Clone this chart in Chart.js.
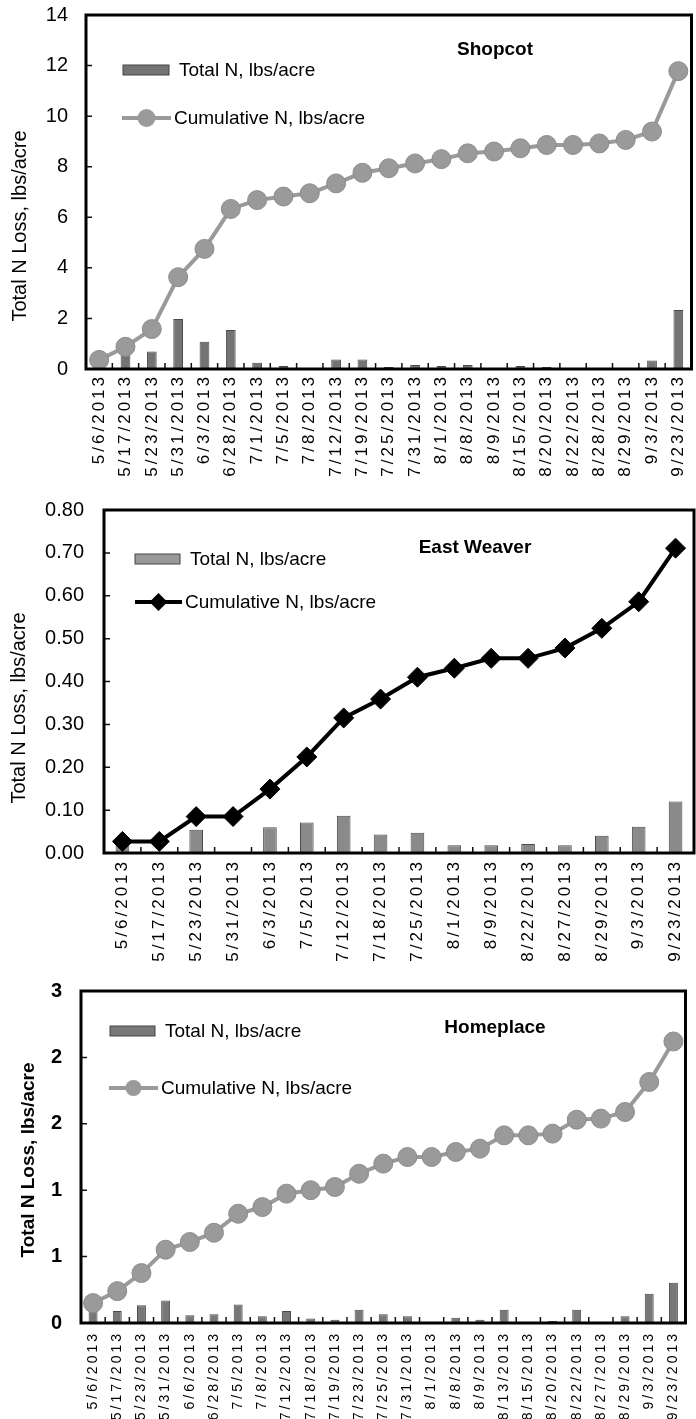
<!DOCTYPE html>
<html lang="en">
  <head>
    <meta charset="UTF-8" />
    <script src="https://cdn.jsdelivr.net/npm/chart.js"></script>
    <style>
      html,
      body {
        margin: 0;
        padding: 0;
        background: #fff;
        overflow: hidden;
        width: 696px;
        height: 1419px;
      }
      canvas {
        position: absolute;
        left: 0;
        display: block;
      }
    </style>
  </head>
  <body>
    <canvas id="shopcot" width="702" height="480" style="top: 0px"></canvas>
    <canvas id="weaver" width="705" height="480" style="top: 495px"></canvas>
    <canvas id="homeplace" width="696" height="459" style="top: 960px"></canvas>

    <script>
      // ---- data ----
      const shopcotDates = [
        "5/6/2013", "5/17/2013", "5/23/2013", "5/31/2013", "6/3/2013", "6/28/2013",
        "7/1/2013", "7/5/2013", "7/8/2013", "7/12/2013", "7/19/2013", "7/25/2013",
        "7/31/2013", "8/1/2013", "8/8/2013", "8/9/2013", "8/15/2013", "8/20/2013",
        "8/22/2013", "8/28/2013", "8/29/2013", "9/3/2013", "9/23/2013",
      ];
      const shopcotTotal = [
        0.36, 0.55, 0.69, 1.98, 1.08, 1.54, 0.25, 0.12, 0.02, 0.38, 0.38, 0.08,
        0.16, 0.12, 0.16, 0.02, 0.12, 0.08, 0.01, 0.01, 0.02, 0.34, 2.33,
      ];
      const shopcotCumulative = [
        0.36, 0.88, 1.58, 3.63, 4.75, 6.33, 6.68, 6.82, 6.95, 7.34, 7.76, 7.94,
        8.13, 8.3, 8.53, 8.6, 8.73, 8.86, 8.86, 8.92, 9.06, 9.39, 11.78,
      ];

      const weaverDates = [
        "5/6/2013", "5/17/2013", "5/23/2013", "5/31/2013", "6/3/2013", "7/5/2013",
        "7/12/2013", "7/18/2013", "7/25/2013", "8/1/2013", "8/9/2013", "8/22/2013",
        "8/27/2013", "8/29/2013", "9/3/2013", "9/23/2013",
      ];
      const weaverTotal = [
        0.02, 0, 0.054, 0, 0.06, 0.071, 0.087, 0.043, 0.047, 0.018, 0.018, 0.021,
        0.018, 0.04, 0.061, 0.12,
      ];
      const weaverCumulative = [
        0.027, 0.027, 0.085, 0.085, 0.149, 0.224, 0.315, 0.359, 0.41, 0.431, 0.454,
        0.454, 0.478, 0.524, 0.586, 0.711,
      ];

      const homeDates = [
        "5/6/2013", "5/17/2013", "5/23/2013", "5/31/2013", "6/6/2013", "6/28/2013",
        "7/5/2013", "7/8/2013", "7/12/2013", "7/18/2013", "7/19/2013", "7/23/2013",
        "7/25/2013", "7/31/2013", "8/1/2013", "8/8/2013", "8/9/2013", "8/13/2013",
        "8/15/2013", "8/20/2013", "8/22/2013", "8/27/2013", "8/29/2013", "9/3/2013",
        "9/23/2013",
      ];
      const homeTotal = [
        0.15, 0.09, 0.133, 0.17, 0.058, 0.065, 0.14, 0.05, 0.09, 0.033, 0.025, 0.1,
        0.065, 0.05, 0.008, 0.04, 0.025, 0.1, 0.005, 0.015, 0.1, 0.005, 0.05, 0.22,
        0.304,
      ];
      const homeCumulative = [
        0.15, 0.24, 0.376, 0.552, 0.61, 0.68, 0.823, 0.873, 0.974, 1.0, 1.024,
        1.124, 1.2, 1.25, 1.25, 1.288, 1.313, 1.413, 1.413, 1.426, 1.531, 1.539,
        1.589, 1.815, 2.12,
      ];

      const FONT = "'Liberation Sans', Arial, sans-serif";
      const Y_TITLE = "Total N Loss, lbs/acre";

      // frame, inner tick marks, legend, axis title and site name
      const chartFrame = {
        id: "chartFrame",
        beforeDraw(chart, args, o) {
          // the date labels in the figure are spread out, so widen them a bit
          const xs = chart.scales.x;
          if (!xs._spaced) {
            const orig = xs.drawLabels;
            xs.drawLabels = function (area) {
              this.ctx.save();
              this.ctx.letterSpacing = o.spacing + "px";
              orig.call(this, area);
              this.ctx.restore();
            };
            xs._spaced = true;
          }
        },
        afterDatasetsDraw(chart, args, o) {
          const { ctx, chartArea: a } = chart;
          const x = chart.scales.x;
          const y = chart.scales.y;
          ctx.save();
          ctx.strokeStyle = "#111";
          ctx.lineWidth = 1.5;
          ctx.beginPath();
          const n = chart.data.labels.length;
          const half = (x.getPixelForValue(1) - x.getPixelForValue(0)) / 2;
          for (let i = 0; i <= n; i++) {
            const px = x.getPixelForValue(i) - half;
            ctx.moveTo(px, a.bottom);
            ctx.lineTo(px, a.bottom - 6);
          }
          y.ticks.forEach((t) => {
            const py = y.getPixelForValue(t.value);
            ctx.moveTo(a.left, py);
            ctx.lineTo(a.left + 6, py);
          });
          ctx.stroke();
          ctx.lineWidth = 3;
          ctx.strokeStyle = "#000";
          ctx.strokeRect(a.left, a.top, a.right - a.left, a.bottom - a.top);
          ctx.restore();
        },
        afterDraw(chart, args, o) {
          const ctx = chart.ctx;
          const bar = chart.data.datasets[1];
          const line = chart.data.datasets[0];
          ctx.save();
          // bar swatch
          ctx.fillStyle = o.swatchColor;
          ctx.strokeStyle = "#444";
          ctx.lineWidth = 1;
          ctx.fillRect(o.bar[0], o.bar[1], o.bar[2], o.bar[3]);
          ctx.strokeRect(o.bar[0], o.bar[1], o.bar[2], o.bar[3]);
          ctx.fillStyle = "#000";
          ctx.font = "19px " + FONT;
          ctx.textBaseline = "middle";
          ctx.textAlign = "left";
          ctx.fillText(bar.label, o.bar[0] + o.bar[2] + 10, o.bar[1] + o.bar[3] / 2 + 1);
          // line swatch
          ctx.strokeStyle = line.borderColor;
          ctx.lineWidth = line.borderWidth;
          ctx.beginPath();
          ctx.moveTo(o.line[0], o.line[2]);
          ctx.lineTo(o.line[1], o.line[2]);
          ctx.stroke();
          const cx = (o.line[0] + o.line[1]) / 2;
          const r = o.markerRadius;
          ctx.fillStyle = line.pointBackgroundColor;
          ctx.beginPath();
          if (line.pointStyle === "rectRot") {
            ctx.moveTo(cx, o.line[2] - r);
            ctx.lineTo(cx + r, o.line[2]);
            ctx.lineTo(cx, o.line[2] + r);
            ctx.lineTo(cx - r, o.line[2]);
            ctx.closePath();
          } else {
            ctx.arc(cx, o.line[2], r, 0, Math.PI * 2);
          }
          ctx.fill();
          ctx.fillStyle = "#000";
          ctx.fillText(line.label, o.line[1] + 3, o.line[2] + 1);
          // site name
          ctx.font = "bold 19px " + FONT;
          ctx.textAlign = "center";
          ctx.fillText(o.title, o.titlePos[0], o.titlePos[1]);
          // y axis title (sits a little below the middle in the figure)
          ctx.translate(o.yTitlePos[0], o.yTitlePos[1]);
          ctx.rotate(-Math.PI / 2);
          ctx.font = o.yTitleFont + FONT;
          ctx.fillText(Y_TITLE, 0, 0);
          ctx.restore();
        },
      };

      function makeChart(id, s) {
        return new Chart(document.getElementById(id), {
          type: "bar",
          data: {
            labels: s.labels,
            datasets: [
              {
                type: "line",
                label: "Cumulative N, lbs/acre",
                data: s.cumulative,
                borderColor: s.lineColor,
                borderWidth: s.lineWidth,
                pointStyle: s.pointStyle,
                pointRadius: s.pointRadius,
                pointBackgroundColor: s.lineColor,
                pointBorderColor: s.pointBorder,
                pointBorderWidth: 1,
                tension: 0,
                order: 0,
              },
              {
                type: "bar",
                label: "Total N, lbs/acre",
                data: s.total,
                backgroundColor: s.barColor,
                borderColor: "#4a4a4a",
                borderWidth: 1,
                barPercentage: 0.37,
                categoryPercentage: 1,
                order: 1,
              },
            ],
          },
          options: {
            responsive: false,
            animation: false,
            layout: { padding: { top: s.padTop, right: s.padRight, left: 0, bottom: 0 } },
            plugins: {
              legend: { display: false },
              tooltip: { enabled: false },
              chartFrame: s.frame,
            },
            scales: {
              x: {
                grid: { display: false, drawTicks: false },
                border: { display: false },
                ticks: {
                  autoSkip: false,
                  minRotation: 90,
                  maxRotation: 90,
                  padding: s.xPad,
                  color: "#000",
                  font: { family: FONT, size: s.xFont },
                },
                afterFit: (scale) => {
                  scale.height = s.xHeight;
                  scale.paddingLeft = 0;
                  scale.paddingRight = 0;
                },
              },
              y: {
                min: 0,
                max: s.yMax,
                grid: { display: false, drawTicks: false },
                border: { display: false },
                ticks: {
                  stepSize: s.yStep,
                  padding: s.yPad,
                  color: "#000",
                  font: { family: FONT, size: 20, weight: s.bold ? "bold" : "normal" },
                  callback: s.yFormat,
                },
                afterFit: (scale) => {
                  scale.width = s.yWidth;
                  scale.paddingTop = 0;
                  scale.paddingBottom = 0;
                },
              },
            },
          },
          plugins: [chartFrame],
        });
      }

      makeChart("shopcot", {
        labels: shopcotDates,
        total: shopcotTotal,
        cumulative: shopcotCumulative,
        lineColor: "#9a9a9a",
        pointBorder: "#8c8c8c",
        lineWidth: 4,
        pointStyle: "circle",
        pointRadius: 9.5,
        barColor: "#747474",
        padTop: 15,
        padRight: 0,
        xPad: 5,
        xFont: 17,
        xHeight: 111,
        yMax: 14,
        yStep: 2,
        yPad: 18,
        yWidth: 86,
        bold: false,
        yFormat: (v) => v,
        frame: {
          spacing: 3,
          markerRadius: 9,
          swatchColor: "#747474",
          bar: [123, 65, 46, 10],
          line: [122, 171, 118],
          title: "Shopcot",
          titlePos: [495, 50],
          yTitlePos: [20, 226],
          yTitleFont: "20px ",
        },
      });

      makeChart("weaver", {
        labels: weaverDates,
        total: weaverTotal,
        cumulative: weaverCumulative,
        lineColor: "#000",
        pointBorder: "#000",
        lineWidth: 4,
        pointStyle: "rectRot",
        pointRadius: 10,
        barColor: "#8a8a8a",
        padTop: 15,
        padRight: 0,
        xPad: 6,
        xFont: 17,
        xHeight: 122,
        yMax: 0.8,
        yStep: 0.1,
        yPad: 20,
        yWidth: 104,
        bold: false,
        yFormat: (v) => v.toFixed(2),
        frame: {
          spacing: 3,
          markerRadius: 9,
          swatchColor: "#999",
          bar: [135, 59, 45, 10],
          line: [135, 182, 107],
          title: "East Weaver",
          titlePos: [475, 53],
          yTitlePos: [19, 213],
          yTitleFont: "20px ",
        },
      });

      makeChart("homeplace", {
        labels: homeDates,
        total: homeTotal,
        cumulative: homeCumulative,
        lineColor: "#9a9a9a",
        pointBorder: "#8c8c8c",
        lineWidth: 4,
        pointStyle: "circle",
        pointRadius: 9.5,
        barColor: "#787878",
        padTop: 31,
        padRight: 6,
        xPad: 8,
        xFont: 14,
        xHeight: 96,
        yMax: 2.5,
        yStep: 0.5,
        yPad: 19,
        yWidth: 81,
        bold: true,
        yFormat: (v) => Math.round(v),
        frame: {
          spacing: 3,
          markerRadius: 8,
          swatchColor: "#787878",
          bar: [110, 66, 45, 10],
          line: [109, 158, 128],
          title: "Homeplace",
          titlePos: [495, 68],
          yTitlePos: [29, 200],
          yTitleFont: "bold 19px ",
        },
      });
    </script>
  </body>
</html>
